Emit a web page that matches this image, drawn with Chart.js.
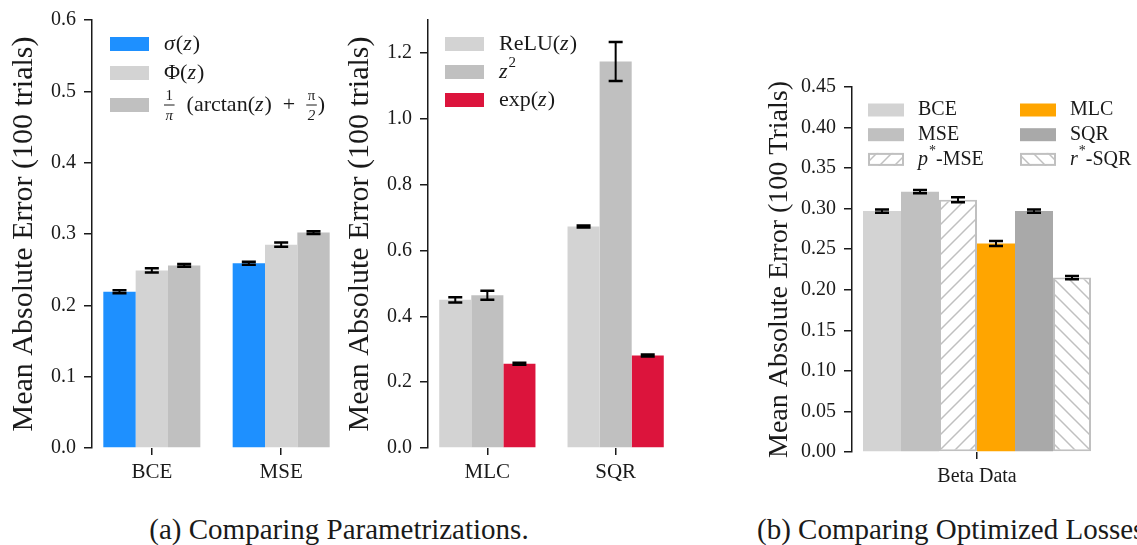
<!DOCTYPE html>
<html>
<head>
<meta charset="utf-8">
<script src="https://cdn.jsdelivr.net/npm/chart.js@4.4.1/dist/chart.umd.min.js"></script>
<style>
  body { margin: 0; width: 1137px; height: 545px; overflow: hidden; background: #fff; position: relative; }
  canvas { position: absolute; top: 0; }
  .cap { position: absolute; top: 513px; font: 29px "Liberation Serif", serif; color: #1a1a1a; white-space: nowrap; }
</style>
</head>
<body>
<canvas id="chartA" width="345" height="500" style="left:0"></canvas>
<canvas id="chartB" width="350" height="500" style="left:340px"></canvas>
<canvas id="chartC" width="377" height="500" style="left:760px"></canvas>
<div class="cap" style="left:139px;width:400px;text-align:center">(a) Comparing Parametrizations.</div>
<div class="cap" style="left:757px">(b) Comparing Optimized Losses</div>
<script>
// Panel (a) left: link functions trained with BCE / MSE
const catsA = ['BCE', 'MSE'];
const sigmaVals = [0.219, 0.259];
const sigmaErr = [0.002, 0.002];
const phiVals = [0.249, 0.285];
const phiErr = [0.003, 0.003];
const atanVals = [0.256, 0.302];
const atanErr = [0.002, 0.002];
const yTicksA = [0, 0.1, 0.2, 0.3, 0.4, 0.5, 0.6];

// Panel (a) right: MLC / SQR
const catsB = ['MLC', 'SQR'];
const reluVals = [0.450, 0.673];
const reluErr = [0.008, 0.003];
const sqVals = [0.464, 1.174];
const sqErr = [0.014, 0.059];
const expVals = [0.256, 0.281];
const expErr = [0.003, 0.003];
const yTicksB = [0, 0.2, 0.4, 0.6, 0.8, 1.0, 1.2];

// Panel (b): optimized losses on beta data
const catsC = ['Beta Data'];
const lossNames = ['BCE', 'MSE', '_p_^*^-MSE', 'MLC', 'SQR', '_r_^*^-SQR'];
const lossVals = [0.297, 0.321, 0.311, 0.257, 0.297, 0.215];
const lossErr = [0.002, 0.002, 0.003, 0.003, 0.002, 0.002];
const yTicksC = [0, 0.05, 0.10, 0.15, 0.20, 0.25, 0.30, 0.35, 0.40, 0.45];

const SERIF = '"Liberation Serif", serif';
const INK = '#1a1a1a';

// diagonal hatch, dir 1 = "/", -1 = "\"
function hatch(dir) {
  const s = 15;
  const c = document.createElement('canvas');
  c.width = s; c.height = s;
  const g = c.getContext('2d');
  g.fillStyle = '#fff';
  g.fillRect(0, 0, s, s);
  g.strokeStyle = '#c0c0c0';
  g.lineWidth = 1.5;
  g.beginPath();
  if (dir > 0) {
    g.moveTo(0, s); g.lineTo(s, 0);
    g.moveTo(-2, 2); g.lineTo(2, -2);
    g.moveTo(s - 2, s + 2); g.lineTo(s + 2, s - 2);
  } else {
    g.moveTo(0, 0); g.lineTo(s, s);
    g.moveTo(-2, s - 2); g.lineTo(2, s + 2);
    g.moveTo(s - 2, -2); g.lineTo(s + 2, 2);
  }
  g.stroke();
  return g.createPattern(c, 'repeat');
}

// mini markup: _x_ italic, ^x^ superscript, {a|b} fraction
function drawRich(ctx, str, x, y, size) {
  const re = /_([^_]+)_|\^([^^]+)\^|\{([^|]*)\|([^}]*)\}|([^_^{]+)/g;
  let m;
  ctx.textBaseline = 'middle';
  ctx.textAlign = 'left';
  ctx.fillStyle = INK;
  while ((m = re.exec(str))) {
    if (m[1]) {
      ctx.font = `italic ${size}px ${SERIF}`;
      ctx.fillText(m[1], x, y);
      x += ctx.measureText(m[1]).width + 1;
    } else if (m[2]) {
      ctx.font = `${Math.round(size * 0.7)}px ${SERIF}`;
      ctx.fillText(m[2], x, y - size * 0.4);
      x += ctx.measureText(m[2]).width;
    } else if (m[3] !== undefined && m[4] !== undefined) {
      const fs = Math.round(size * 0.66);
      ctx.font = `${fs}px ${SERIF}`;
      const w = Math.max(ctx.measureText(m[3]).width, ctx.measureText(m[4]).width) + 3;
      ctx.textAlign = 'center';
      ctx.fillText(m[3], x + w / 2, y - fs * 0.62);
      ctx.font = `italic ${fs}px ${SERIF}`;
      ctx.fillText(m[4], x + w / 2, y + fs * 0.72);
      ctx.textAlign = 'left';
      ctx.strokeStyle = INK;
      ctx.lineWidth = 1;
      ctx.beginPath(); ctx.moveTo(x, y); ctx.lineTo(x + w, y); ctx.stroke();
      x += w + 1;
    } else if (m[5]) {
      ctx.font = `${size}px ${SERIF}`;
      ctx.fillText(m[5], x, y);
      x += ctx.measureText(m[5]).width;
    }
  }
}

const errorBars = {
  id: 'errorBars',
  afterDatasetsDraw(chart) {
    const ctx = chart.ctx;
    const y = chart.scales.y;
    ctx.save();
    ctx.strokeStyle = '#000';
    chart.data.datasets.forEach((ds, i) => {
      chart.getDatasetMeta(i).data.forEach((bar, j) => {
        const d = ds.data[j];
        const v = typeof d === 'object' ? d.y : d;
        const e = ds.errors[j];
        const t = y.getPixelForValue(v + e);
        const b = y.getPixelForValue(v - e);
        ctx.lineWidth = 2;
        ctx.beginPath();
        ctx.moveTo(bar.x, t); ctx.lineTo(bar.x, b);
        ctx.stroke();
        ctx.lineWidth = 2.5;
        ctx.beginPath();
        ctx.moveTo(bar.x - 7, t); ctx.lineTo(bar.x + 7, t);
        ctx.moveTo(bar.x - 7, b); ctx.lineTo(bar.x + 7, b);
        ctx.stroke();
      });
    });
    ctx.restore();
  }
};

function richLegend(o) {
  return {
    id: 'richLegend',
    afterDraw(chart) {
      const ctx = chart.ctx;
      ctx.save();
      chart.data.datasets.forEach((ds, i) => {
        const col = Math.floor(i / o.perCol), row = i % o.perCol;
        const bx = o.x + col * o.colW;
        const cy = o.y + row * o.rowH + (o.extra ? o.extra[i] : 0);
        ctx.fillStyle = ds.backgroundColor;
        ctx.fillRect(bx, cy - o.boxH / 2, o.boxW, o.boxH);
        if (ds.borderWidth) {
          ctx.strokeStyle = ds.borderColor;
          ctx.lineWidth = 2;
          ctx.strokeRect(bx + 1, cy - o.boxH / 2 + 1, o.boxW - 2, o.boxH - 2);
        }
        drawRich(ctx, ds.label, bx + o.textDx, cy, o.size);
      });
      ctx.restore();
    }
  };
}

function yAxis(ticks, min, max, dec, width, title, tSize, tPad) {
  return {
    min: min, max: max,
    afterBuildTicks: (s) => { s.ticks = ticks.map(v => ({ value: v })); },
    afterFit: (s) => { s.width = width; },
    ticks: { callback: v => v.toFixed(dec), font: { family: SERIF, size: 20 }, color: INK, padding: 8 },
    grid: { display: true, drawOnChartArea: false, drawTicks: true, tickLength: 8, color: INK, lineWidth: 1.5 },
    border: { display: true, color: INK, width: 1.5 },
    title: { display: true, text: title, font: { family: SERIF, size: tSize }, color: INK, padding: { top: tPad, bottom: 0 } }
  };
}

function xLinear(cats, height) {
  return {
    type: 'linear', min: -0.4625, max: 1.4625, offset: false,
    afterBuildTicks: (s) => { s.ticks = cats.map((c, i) => ({ value: i })); },
    afterFit: (s) => { s.height = height; },
    ticks: { callback: v => cats[v], font: { family: SERIF, size: 21 }, color: INK, padding: 5, autoSkip: false, maxRotation: 0 },
    grid: { display: true, offset: false, drawOnChartArea: false, drawTicks: true, tickLength: 7, color: INK, lineWidth: 1.5 },
    border: { display: false }
  };
}

function series(label, vals, errs, color) {
  return {
    label: label,
    data: vals.map((v, i) => ({ x: i, y: v })),
    errors: errs,
    backgroundColor: color,
    borderWidth: 0,
    categoryPercentage: 0.75,
    barPercentage: 1.0
  };
}

const base = {
  responsive: false,
  animation: false,
  devicePixelRatio: 1,
  plugins: { legend: { display: false }, tooltip: { enabled: false } }
};

new Chart(document.getElementById('chartA'), {
  type: 'bar',
  data: {
    datasets: [
      series('_σ_(_z_)', sigmaVals, sigmaErr, '#1e90ff'),
      series('Φ(_z_)', phiVals, phiErr, '#d3d3d3'),
      series('{1|π}  (arctan(_z_)  +  {π|2})', atanVals, atanErr, '#c0c0c0')
    ]
  },
  options: Object.assign({}, base, {
    layout: { padding: { top: 19, right: 4, left: 0, bottom: 0 } },
    scales: {
      x: xLinear(catsA, 52),
      y: yAxis(yTicksA, 0, 0.6, 1, 92, 'Mean Absolute Error (100 trials)', 30, 6)
    }
  }),
  plugins: [errorBars, richLegend({ x: 110, y: 44, rowH: 29, extra: [0, 0, 3], perCol: 3, colW: 0, boxW: 39, boxH: 14, textDx: 54, size: 22 })]
});

new Chart(document.getElementById('chartB'), {
  type: 'bar',
  data: {
    datasets: [
      series('ReLU(_z_)', reluVals, reluErr, '#d3d3d3'),
      series('_z_^2^', sqVals, sqErr, '#c0c0c0'),
      series('exp(_z_)', expVals, expErr, '#dc143c')
    ]
  },
  options: Object.assign({}, base, {
    layout: { padding: { top: 19, right: 15, left: 0, bottom: 0 } },
    scales: {
      x: xLinear(catsB, 52),
      y: yAxis(yTicksB, 0, 1.3, 1, 88, 'Mean Absolute Error (100 trials)', 30, 2)
    }
  }),
  plugins: [errorBars, richLegend({ x: 105, y: 44, rowH: 28, perCol: 3, colW: 0, boxW: 39, boxH: 14, textDx: 54, size: 22 })]
});

const lossColors = ['#d3d3d3', '#c0c0c0', hatch(1), '#ffa500', '#a9a9a9', hatch(-1)];
const lossHatched = [false, false, true, false, false, true];

new Chart(document.getElementById('chartC'), {
  type: 'bar',
  data: {
    labels: catsC,
    datasets: lossNames.map((name, i) => ({
      label: name,
      data: [lossVals[i]],
      errors: [lossErr[i]],
      backgroundColor: lossColors[i],
      borderColor: '#c0c0c0',
      borderWidth: lossHatched[i] ? 2 : 0,
      borderSkipped: false,
      categoryPercentage: 0.912,
      barPercentage: 1.0
    }))
  },
  options: Object.assign({}, base, {
    layout: { padding: { top: 87, right: 35, left: 0, bottom: 0 } },
    scales: {
      x: {
        type: 'category', offset: true,
        afterFit: (s) => { s.height = 48; },
        ticks: { font: { family: SERIF, size: 20 }, color: INK, padding: 6, maxRotation: 0 },
        grid: { display: true, offset: false, drawOnChartArea: false, drawTicks: true, tickLength: 7, color: INK, lineWidth: 1.5 },
        border: { display: false }
      },
      y: yAxis(yTicksC, 0, 0.45, 2, 92, 'Mean Absolute Error (100 Trials)', 28, 3)
    }
  }),
  plugins: [errorBars, richLegend({ x: 108, y: 110, rowH: 24.7, perCol: 3, colW: 152, boxW: 36, boxH: 13, textDx: 50, size: 20 })]
});
</script>
</body>
</html>
